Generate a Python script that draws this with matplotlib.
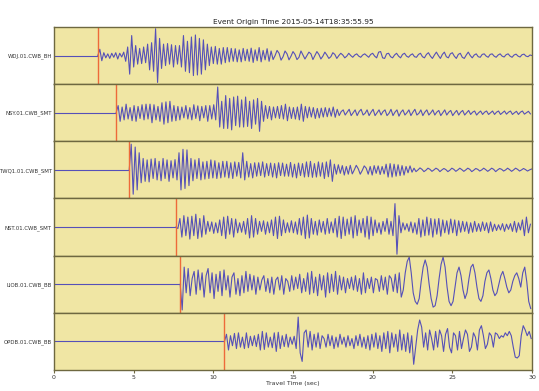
import numpy as np
import matplotlib
matplotlib.use("Agg")
import matplotlib.pyplot as plt

# Station channels, top to bottom
stations = ["WDJ.01.CWB_BH", "NSY.01.CWB_SMT", "TWQ1.01.CWB_SMT",
            "NST.01.CWB_SMT", "LIOB.01.CWB_BB", "OPDB.01.CWB_BB"]

# P-wave arrival times (s after origin)
arrivals = [2.75, 3.9, 4.72, 7.65, 7.92, 10.7]

# Sample interval of the traces below (s); amplitudes normalised to percent
dt = 0.125

wdj = [0, 22, -18, 10, -8, 6, -10, 8,
       -6, 10, -12, 8, -5, 12, -20, 30,
       -65, 70, -40, 35, -30, 25, -28, 30,
       -25, 40, -50, 45, -55, 94, -94, 60,
       -45, 40, -35, 42, -30, 38, -40, 35,
       -30, 35, -40, 70, -55, 50, -60, 65,
       -70, 72, -68, 60, -65, 55, -50, 40,
       -35, 30, -28, 32, -30, 25, -30, 28,
       -25, 28, -22, 25, -20, 24, -22, 20,
       -22, 25, -18, 22, -20, 26, -24, 20,
       -18, 28, -22, 18, -15, 24, -20, 16,
       -14, 0, 18, 8, -16, -4, 16, 6,
       -15, -2, 14, 4, -14, -6, 16, 2,
       -12, 0, 12, 6, -14, 0, 14, 4,
       -12, -2, 12, 2, -10, -4, 10, 4,
       -10, 0, 8, 2, -8, -2, 8, 0,
       -6, 2, 6, -2, -6, 2, 6, 0,
       -6, 4, 8, -2, -8, 12, 14, -8,
       -10, 6, 8, -4, -8, 2, 8, -2,
       -8, 4, 8, -2, -6, 2, 6, -4,
       -6, 4, 8, -4, -8, 4, 10, -2,
       -10, 2, 12, 0, -10, 4, 12, -4,
       -8, 6, 10, -2, -10, 4, 8, -6,
       -10, 2, 12, 0, -8, 2, 6, -4,
       -6, 4, 6, -2, -6, 4, 6, -2,
       -6, 2, 6, -2, -5, 3, 6, -2,
       -6, 2, 5, -2, -5, 3, 5, -2,
       -4, 2, 0]

nsy = [0, 25, -30, 20, -25, 30, -22, 18,
       -28, 25, -30, 22, -20, 28, -25, 30,
       -22, 30, -35, 28, -25, 22, -30, 35,
       -40, 38, -35, 40, -30, 25, -28, 22,
       -25, 20, -18, 25, -22, 18, -25, 28,
       -20, 24, -28, 22, -18, 25, -30, 25,
       -22, 28, -25, 90, -50, 40, -55, 60,
       -55, 50, -60, 55, -45, 58, -50, 45,
       -50, 55, -48, 40, -55, 45, -40, 50,
       -65, 40, -30, 25, -20, 22, -25, 20,
       -18, 22, -20, 25, -22, 30, -28, 20,
       -20, 18, -22, 20, -25, 30, -30, 22,
       -18, 20, -15, 18, -20, 15, -18, 16,
       -15, 18, -14, 16, -12, 20, -16, 12,
       -10, 4, 10, -8, 2, 12, -10, 0,
       10, -10, 4, 12, -8, -2, 10, -10,
       2, 12, -10, 0, 10, -8, 4, 10,
       -10, -2, 12, -10, 2, 10, -12, 2,
       10, -8, 0, 10, -10, 2, 12, -8,
       -2, 10, -10, 2, 10, -8, 0, 10,
       -8, 2, 8, -10, 0, 10, -8, 2,
       8, -10, 0, 8, -8, 2, 8, -8,
       0, 8, -6, 2, 6, -8, 0, 6,
       -6, 2, 6, -6, 0, 6, -6, 2,
       6, -6, 0, 6, -5, 2, 6, -6,
       0, 5, -6, 2, 6, -5, 0, 5,
       -4]

twq1 = [0, 90, -85, 80, -70, 60, -45, 40,
        -40, 35, -42, 38, -30, 40, -35, 30,
        -38, 40, -30, 35, -40, 32, -28, 36,
        -35, 60, -70, 72, -65, 70, -55, 40,
        -38, 35, -30, 40, -35, 28, -32, 30,
        -30, 35, -28, 32, -30, 25, -28, 30,
        -25, 30, -28, 25, -30, 28, -22, 26,
        -28, 60, -35, 30, -25, 22, -28, 25,
        -22, 25, -20, 28, -25, 22, -20, 24,
        -25, 22, -28, 25, -20, 24, -22, 20,
        -22, 26, -25, 20, -28, 24, -20, 22,
        -25, 28, -24, 30, -26, 22, -25, 28,
        -22, 25, -30, 28, -24, 35, -40, 20,
        -15, 18, -12, 15, -18, 12, -15, 16,
        -14, 0, 16, 4, -15, -2, 14, 6,
        -15, 12, -18, 15, -12, 14, -16, 12,
        -14, 20, -25, 22, -25, 20, -22, 18,
        -20, 15, -18, 12, -10, 14, -8, 6,
        -6, 0, 7, 2, -6, -1, 6, 2,
        -5, 0, 6, 2, -6, 0, 5, 1,
        -6, -1, 6, 2, -5, 0, 6, 1,
        -5, 0, 6, 2, -6, -1, 5, 2,
        -4, 0, 6, 1, -5, 0, 6, 2,
        -6, 0, 5, 2, -4, 0, 6, 1,
        -5, 0, 6, 2, -4, 0, 5, 1,
        -4, 0, 3]

nst = [0, -5, 30, -35, 40, -30, 35, -42,
       38, -30, 45, -40, 30, -35, 40, -25,
       20, -15, 18, -22, 15, -20, 25, -30,
       35, -40, 38, -25, 30, -35, 28, -20,
       15, -18, 20, -25, 30, -38, 40, -35,
       30, -25, 20, -15, 22, -25, 18, -20,
       25, -30, 35, -40, 38, -30, 25, -20,
       15, -18, 22, -20, 18, -25, 30, -28,
       35, -40, 42, -38, 30, -25, 20, -28,
       25, -18, 20, -25, 30, -22, 18, -20,
       30, -35, 38, -40, 35, -30, 28, -25,
       35, -38, 40, -30, 25, -20, 30, -35,
       38, -42, 35, -30, 25, -20, 15, -25,
       20, -15, 30, -25, 20, -30, 82, -95,
       40, -20, 15, -10, 12, -15, 18, -20,
       15, -25, 30, -35, 25, -30, 35, -28,
       30, -35, 28, -25, 30, -32, 25, -20,
       22, -25, 28, -20, 25, -30, 22, -18,
       20, -15, 18, -22, 15, -18, 20, -15,
       12, -15, 18, -12, 15, -20, 18, -15,
       10, -12, 8, -10, 12, -15, 10, -8,
       12, -15, 20, -18, 15, -10, 25, -30,
       35, -20, 10]

liob = [0, -90, 60, -30, 55, -40, 20, 45,
        -35, 50, -20, 40, -45, 30, 55, -30,
        40, -50, 35, -25, 45, -40, 50, -20,
        30, -45, 25, 40, -35, 20, -40, 30,
        -30, 45, -25, 35, -20, 30, -35, 25,
        -20, 15, 30, -25, 20, -30, 25, -35,
        15, 25, -20, 30, -35, 20, 10, -25,
        30, -20, 25, -15, 35, -30, 20, -25,
        40, -35, 45, -30, 25, -40, 35, -20,
        30, -45, 40, -30, 35, -25, 45, -35,
        30, -20, 25, -30, 20, -15, 25, -20,
        30, -25, 20, -35, 40, -30, 20, -15,
        25, -30, 20, 15, -25, 30, -20, 25,
        -35, 30, 20, -25, 35, -30, 40, -45,
        -20, 40, 80, 95, 40, -30, -60, -70,
        -50, 10, 60, 85, 60, 0, -50, -80,
        -75, -40, 20, 70, 95, 60, -10, -60,
        -75, -60, -10, 40, 60, 30, -20, -50,
        -30, 20, 60, 70, 40, -10, -50, -60,
        -40, 10, 40, 50, 20, -20, -40, -30,
        0, 30, 45, 20, -10, -30, -20, 10,
        30, 40, 20, -10, 40, 60, 10, -60,
        -85]

opdb = [0, 25, -30, 20, -15, 28, -25, 30,
        -20, 15, -25, 30, -22, 18, -15, 20,
        -18, 25, -30, 35, -28, 30, -20, 15,
        -22, 30, -35, 32, -25, 20, -18, 25,
        -20, 15, -10, 18, -25, 85, -40, -70,
        30, 40, -20, 35, -30, 25, -20, 30,
        -25, 20, 10, -20, 25, -15, 20, -25,
        15, -20, 25, -10, 15, -20, 20, -15,
        10, -25, 20, -15, 25, -20, 15, -25,
        20, -30, 25, -20, 30, -25, 20, -35,
        30, -25, 35, -40, 30, -20, 25, -35,
        40, -30, 25, -35, 30, -40, 20, -80,
        -20, 40, 75, 50, -20, 30, -30, 40,
        10, -30, 35, -20, 40, 20, -35, 25,
        45, -20, -40, 30, 20, -30, 35, -25,
        10, 40, 25, -35, -20, 30, 15, -30,
        40, 55, 20, -25, -10, 30, 20, -20,
        30, 25, 10, 20, 15, 30, 20, 35,
        20, -20, -55, -58, -50, 20, 55, 40,
        20, 35, 10]

traces = [wdj, nsy, twq1, nst, liob, opdb]

title = "Event Origin Time 2015-05-14T18:35:55.95"
xlabel = "Travel Time (sec)"
xticks = [0, 5, 10, 15, 20, 25, 30]

bg = "#f0e6a4"
edge = "#6e6840"
wave_color = "#5550b8"
pick_color = "#ee6a3a"

fig, axes = plt.subplots(len(stations), 1, sharex=True, figsize=(5.39, 3.91), dpi=100)
fig.subplots_adjust(left=0.1002, right=0.987, top=0.931, bottom=0.0537, hspace=0)

for ax, name, t0, amp in zip(axes, stations, arrivals, traces):
    ax.set_facecolor(bg)
    y = np.asarray(amp, dtype=float) / 100.0
    t = t0 + dt * np.arange(len(y))
    # quiet baseline before the arrival, then the recorded motion
    ax.plot([0, t0], [0, 0], color=wave_color, lw=0.8)
    ax.plot(t, y, color=wave_color, lw=0.8)
    ax.axvline(t0, color=pick_color, lw=1.0)
    ax.set_ylim(-1, 1)
    ax.set_xlim(0, 30)
    ax.set_yticks([0])
    ax.set_yticklabels([name], fontsize=3.9, color="#333333")
    ax.tick_params(axis="y", length=0, pad=1.5)
    ax.tick_params(axis="x", length=0)
    for s in ax.spines.values():
        s.set_color(edge)
        s.set_linewidth(1.0)

axes[-1].set_xticks(xticks)
axes[-1].set_xticklabels([str(v) for v in xticks], fontsize=4.5, color="#333333")
axes[-1].tick_params(axis="x", length=2, pad=1.5, color=edge)
axes[-1].set_xlabel(xlabel, fontsize=4.5, color="#333333", labelpad=0.5)
axes[0].set_title(title, fontsize=5.3, color="#222222", pad=2.5)

fig.savefig("out.png", dpi=100, facecolor="white")
